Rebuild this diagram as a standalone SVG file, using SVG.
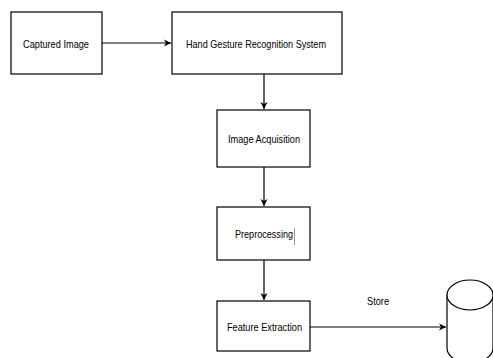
<svg xmlns="http://www.w3.org/2000/svg" width="493" height="358" viewBox="0 0 493 358">
<defs>
<marker id="ah" markerWidth="8" markerHeight="8" refX="7" refY="4" orient="auto" markerUnits="userSpaceOnUse">
<path d="M0,0.5 L7,4 L0,7.5 L2,4 Z" fill="#000"/>
</marker>
<style>
.box{fill:#fff;stroke:#000;stroke-width:1.2}
.lbl{font-family:"Liberation Sans",Arial,sans-serif;font-size:11px;fill:#000;text-anchor:middle}
.edge{stroke:#000;stroke-width:1.2;fill:none}
</style>
</defs>
<rect width="493" height="358" fill="#fff"/>
<g id="captured">
<rect class="box" x="11" y="12" width="91" height="62"/>
<text class="lbl" x="56" y="48" textLength="66" lengthAdjust="spacingAndGlyphs">Captured Image</text>
</g>
<g id="hgrs">
<rect class="box" x="172" y="12" width="170" height="62"/>
<text class="lbl" x="256" y="48" textLength="140" lengthAdjust="spacingAndGlyphs">Hand Gesture Recognition System</text>
</g>
<g id="acq">
<rect class="box" x="217" y="110" width="93" height="57"/>
<text class="lbl" x="264" y="143" textLength="72" lengthAdjust="spacingAndGlyphs">Image Acquisition</text>
</g>
<g id="pre">
<rect class="box" x="217" y="207" width="93" height="53"/>
<text class="lbl" x="264" y="238" textLength="58" lengthAdjust="spacingAndGlyphs">Preprocessing</text>
<line x1="294.5" y1="228" x2="294.5" y2="245" stroke="#999" stroke-width="1"/>
</g>
<g id="feat">
<rect class="box" x="217" y="301" width="93" height="50"/>
<text class="lbl" x="264.5" y="331" textLength="75" lengthAdjust="spacingAndGlyphs">Feature Extraction</text>
</g>
<g id="db">
<path d="M447,295 L447,348 A23,15 0 0 0 493,348 L493,295" fill="#fff" stroke="#000" stroke-width="1.2"/>
<ellipse cx="470" cy="295" rx="23" ry="15" fill="#fff" stroke="#000" stroke-width="1.2"/>
</g>
<g id="connectors">
<line class="edge" x1="102" y1="43" x2="171" y2="43" marker-end="url(#ah)"/>
<line class="edge" x1="264" y1="74" x2="264" y2="109" marker-end="url(#ah)"/>
<line class="edge" x1="264" y1="167" x2="264" y2="206" marker-end="url(#ah)"/>
<line class="edge" x1="264" y1="260" x2="264" y2="300" marker-end="url(#ah)"/>
<line class="edge" x1="310" y1="327" x2="446" y2="327" marker-end="url(#ah)"/>
<text class="lbl" x="378" y="305" textLength="22" lengthAdjust="spacingAndGlyphs">Store</text>
</g>
</svg>
